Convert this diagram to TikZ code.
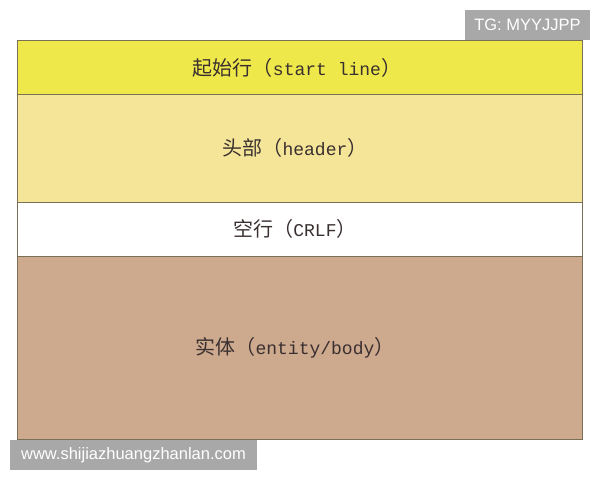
\documentclass[tikz,border=0pt]{standalone}
\usepackage{fontspec}
\setmainfont{Liberation Mono}
\newfontfamily\cjk{Noto Sans CJK SC}
\newfontfamily\wmfont{Liberation Sans}
\definecolor{rowA}{HTML}{EEE84A}
\definecolor{rowB}{HTML}{F5E598}
\definecolor{rowC}{HTML}{FFFFFF}
\definecolor{rowD}{HTML}{CDA98E}
\definecolor{edgec}{HTML}{7A7056}
\definecolor{txt}{HTML}{3A3030}
\definecolor{wmgray}{HTML}{A8A8A8}
\newcommand{\cj}[1]{{\cjk\fontsize{20}{22}\selectfont #1}}
\tikzset{
  rowbox/.style={draw=edgec, line width=0.8pt},
  rowtext/.style={text=txt, font=\fontsize{18}{22}\selectfont, inner sep=0pt},
  wmbox/.style={fill=wmgray, draw=none},
  wmtext/.style={text=white, font=\wmfont\fontsize{16.5}{19}\selectfont, inner sep=0pt}
}
\begin{document}
\begin{tikzpicture}[x=1pt,y=-1pt]
\useasboundingbox (0,0) rectangle (600,480);
\fill[white] (0,0) rectangle (600,480);
% rows
\draw[rowbox, fill=rowA] (17.5,40.5) rectangle (582.5,94.5);
\draw[rowbox, fill=rowB] (17.5,94.5) rectangle (582.5,202);
\draw[rowbox, fill=rowC] (17.5,202) rectangle (582.5,256);
\draw[rowbox, fill=rowD] (17.5,256) rectangle (582.5,439);
\node[rowtext] (t1) at (297,67.5) {\cj{起始行（}start line\cj{）}};
\node[rowtext] (t2) at (295,148) {\cj{头部（}header\cj{）}};
\node[rowtext] (t3) at (295,229) {\cj{空行（}CRLF\cj{）}};
\node[rowtext] (t4) at (295,348) {\cj{实体（}entity/body\cj{）}};
% watermarks
\fill[wmbox] (465,10) rectangle (590,40);
\node[wmtext] (w1) at (527.5,25) {TG: MYYJJPP};
\fill[wmbox] (10,440) rectangle (257,470);
\node[wmtext] (w2) at (133.5,455) {www.shijiazhuangzhanlan.com};
\end{tikzpicture}
\end{document}
